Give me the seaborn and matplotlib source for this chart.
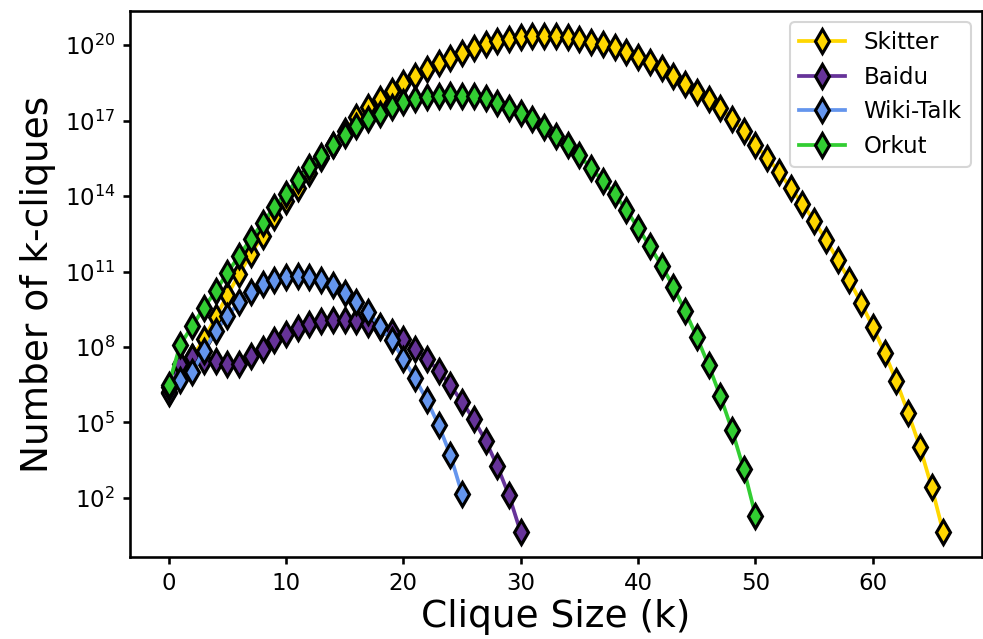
import numpy as np
import pandas as pd
import seaborn as sns
from matplotlib import pyplot as plt
from matplotlib import ticker

# log10 of the number of k-cliques (index = clique size k)
skitter_exp = [6.23, 7.05, 7.6, 8.3, 9.19, 10.05, 10.9, 11.7, 12.43, 13.16,
               13.82, 14.32, 14.94, 15.5, 16.05, 16.6, 17.15, 17.54, 17.85, 18.2,
               18.5, 18.77, 19.04, 19.3, 19.5, 19.7, 19.89, 20.03, 20.16, 20.23,
               20.32, 20.36, 20.38, 20.38, 20.32, 20.23, 20.13, 20.05, 19.92, 19.73,
               19.52, 19.33, 19.1, 18.77, 18.47, 18.16, 17.85, 17.49, 17.08, 16.59,
               16.04, 15.52, 14.97, 14.32, 13.69, 13.02, 12.26, 11.48, 10.65, 9.75,
               8.8, 7.77, 6.64, 5.39, 4.04, 2.45, 0.63]
baidu_exp = [6.16, 7.34, 7.6, 7.45, 7.45, 7.34, 7.34, 7.63, 7.94, 8.27,
             8.53, 8.76, 8.93, 9.03, 9.06, 9.06, 9.02, 8.9, 8.78, 8.6,
             8.3, 7.94, 7.54, 7.05, 6.48, 5.82, 5.12, 4.28, 3.27, 2.1, 0.63]
wiki_exp = [6.4, 6.68, 6.99, 7.84, 8.63, 9.22, 9.79, 10.18, 10.49, 10.67,
            10.8, 10.84, 10.8, 10.67, 10.45, 10.14, 9.79, 9.39, 8.82, 8.27,
            7.54, 6.75, 5.89, 4.9, 3.71, 2.16]
orkut_exp = [6.5, 8.1, 8.82, 9.56, 10.22, 10.95, 11.62, 12.3, 12.92, 13.55,
             14.1, 14.66, 15.14, 15.58, 16.03, 16.44, 16.77, 17.05, 17.28, 17.54,
             17.73, 17.87, 17.94, 18.0, 18.02, 18.0, 17.98, 17.91, 17.71, 17.52,
             17.29, 17.05, 16.75, 16.39, 16.04, 15.63, 15.1, 14.61, 14.08, 13.45,
             12.73, 12.01, 11.24, 10.4, 9.43, 8.4, 7.28, 6.05, 4.7, 3.14, 1.3]

names = ["Skitter", "Baidu", "Wiki-Talk", "Orkut"]
colors = ["#FFD700", "#663399", "#6495ED", "#32CD32"]
series = [skitter_exp, baidu_exp, wiki_exp, orkut_exp]

plt.rcParams["axes.linewidth"] = 1.25
plt.rcParams["xtick.major.width"] = 1.25
plt.rcParams["ytick.major.width"] = 1.25

fig, ax = plt.subplots(figsize=(6.56, 4.26), dpi=150)
fig.subplots_adjust(left=0.132, right=0.998, top=0.983, bottom=0.128)

for name, col, exps in zip(names, colors, series):
    df = pd.DataFrame({"k": np.arange(len(exps)), "count": 10.0 ** np.array(exps)})
    sns.lineplot(data=df, x="k", y="count", ax=ax, color=col, label=name,
                 linewidth=1.8, marker="d", markersize=8,
                 markeredgecolor="black", markeredgewidth=1.5)

ax.set_yscale("log")
ax.yaxis.set_major_locator(ticker.FixedLocator([10.0 ** e for e in range(2, 21, 3)]))
ax.yaxis.set_minor_locator(ticker.NullLocator())
ax.set_xticks([0, 10, 20, 30, 40, 50, 60])
ax.tick_params(labelsize=11)
ax.set_xlabel("Clique Size (k)", fontsize=18, labelpad=2)
ax.set_ylabel("Number of k-cliques", fontsize=18)
ax.legend(loc="upper right", fontsize=11)

fig.savefig("out.png", dpi=150)
